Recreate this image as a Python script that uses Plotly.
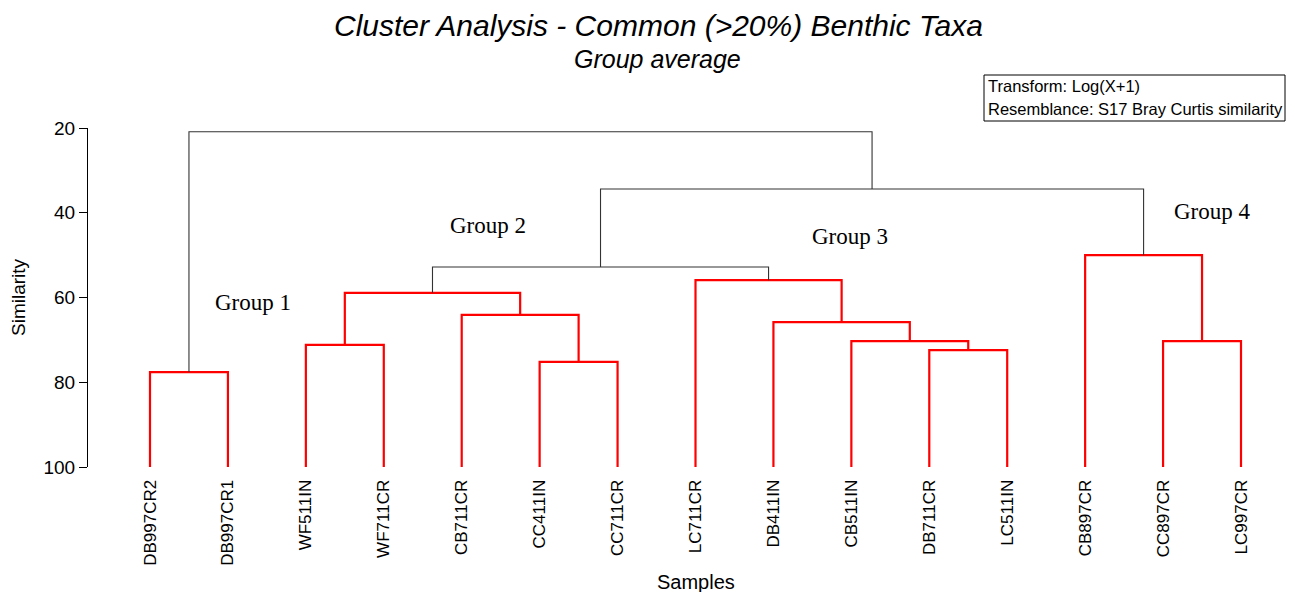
import plotly.graph_objects as go

# ---- data ----
sample_labels = ["DB997CR2", "DB997CR1", "WF511IN", "WF711CR", "CB711CR", "CC411IN",
                 "CC711CR", "LC711CR", "DB411IN", "CB511IN", "DB711CR", "LC511IN",
                 "CB897CR", "CC897CR", "LC997CR"]
# merges (scipy-style ids: leaves 0..14, new clusters 15..)
merge_left = [0, 2, 5, 4, 16, 10, 9, 8, 7, 19, 13, 12, 24, 15]
merge_right = [1, 3, 6, 17, 18, 11, 20, 21, 22, 23, 14, 25, 26, 27]
merge_similarity = [77.6, 71.2, 75.2, 64.1, 58.9, 72.4, 70.3, 65.8, 55.9, 52.8, 70.3, 50.0, 34.4, 20.9]
merge_in_group = [True, True, True, True, True, True, True, True, True, False, True, True, False, False]
group_names = ["Group 1", "Group 2", "Group 3", "Group 4"]
group_x = [1.32, 4.34, 8.98, 13.64]
group_y = [61.1, 43.1, 45.5, 39.8]
y_ticks = [20, 40, 60, 80, 100]

ARIAL = "Arial, Liberation Sans, sans-serif"
TIMES = "Times New Roman, Liberation Serif, serif"

n = len(sample_labels)
node_x = {i: float(i) for i in range(n)}
node_y = {i: 100.0 for i in range(n)}

red_x, red_y, blk_x, blk_y = [], [], [], []
for k, (a, b, s, grp) in enumerate(zip(merge_left, merge_right, merge_similarity, merge_in_group)):
    xs = [node_x[a], node_x[a], node_x[b], node_x[b], None]
    ys = [node_y[a], s, s, node_y[b], None]
    if grp:
        red_x += xs; red_y += ys
    else:
        blk_x += xs; blk_y += ys
    nid = n + k
    node_x[nid] = (node_x[a] + node_x[b]) / 2
    node_y[nid] = s

fig = go.Figure()
fig.add_trace(go.Scatter(x=red_x, y=red_y, mode="lines", line=dict(color="#ff0000", width=2.2),
                         hoverinfo="skip", showlegend=False, cliponaxis=False))
fig.add_trace(go.Scatter(x=blk_x, y=blk_y, mode="lines", line=dict(color="#333333", width=1.1),
                         hoverinfo="skip", showlegend=False, cliponaxis=False))

for name, gx, gy in zip(group_names, group_x, group_y):
    fig.add_annotation(x=gx, y=gy, text=name, showarrow=False,
                       font=dict(family=TIMES, size=23, color="black"))

OFF = 8  # page body margin
W, H = 1279, 584
L = 88 - OFF
T = 128 - OFF
B = H - (467 - OFF)
R = W - (1282 - OFF)
pw = W - L - R
ph = H - T - B
scale = (1241 - 150) / 14.0
x0 = -(150 - 88) / scale
x1 = x0 + pw / scale

def px(xs):
    return (xs - 88) / pw

def py(ys):
    return (467 - ys) / ph

# titles
fig.add_annotation(xref="paper", yref="paper", x=px(658), y=py(25), xanchor="center", yanchor="middle",
                   text="<i>Cluster Analysis - Common (>20%) Benthic Taxa</i>",
                   showarrow=False, font=dict(family=ARIAL, size=30, color="black"))
fig.add_annotation(xref="paper", yref="paper", x=px(657), y=py(59), xanchor="center", yanchor="middle",
                   text="<i>Group average</i>",
                   showarrow=False, font=dict(family=ARIAL, size=25, color="black"))
fig.add_annotation(xref="paper", yref="paper", x=px(696), y=py(582), xanchor="center", yanchor="middle",
                   text="Samples",
                   showarrow=False, font=dict(family=ARIAL, size=20, color="black"))

# info box
fig.add_shape(type="rect", xref="paper", yref="paper", x0=px(984), x1=px(1285), y0=py(121), y1=py(75),
              line=dict(color="black", width=1), fillcolor="white")
fig.add_annotation(xref="paper", yref="paper", x=px(986), y=py(86), xanchor="left", yanchor="middle",
                   text="Transform: Log(X+1)",
                   showarrow=False, font=dict(family=ARIAL, size=16.5, color="black"))
fig.add_annotation(xref="paper", yref="paper", x=px(986), y=py(109), xanchor="left", yanchor="middle",
                   text="Resemblance: S17 Bray Curtis similarity",
                   showarrow=False, font=dict(family=ARIAL, size=16.5, color="black"))

fig.update_layout(
    width=W, height=H,
    margin=dict(l=L, r=R, t=T, b=B),
    plot_bgcolor="white", paper_bgcolor="white",
    xaxis=dict(range=[x0, x1], tickvals=list(range(n)), ticktext=sample_labels, tickangle=-90,
               showgrid=False, zeroline=False, showline=False, ticks="outside", ticklen=5,
               tickcolor="rgba(0,0,0,0)", tickfont=dict(family=ARIAL, size=17, color="black")),
    yaxis=dict(range=[100, 20], tickvals=y_ticks, showgrid=False, zeroline=False, showline=True,
               linecolor="black", linewidth=1, ticks="outside", ticklen=8, tickcolor="black",
               tickfont=dict(family=ARIAL, size=19, color="black"),
               title=dict(text="Similarity", font=dict(family=ARIAL, size=19, color="black"), standoff=12)),
)

fig.write_html("out.html")
